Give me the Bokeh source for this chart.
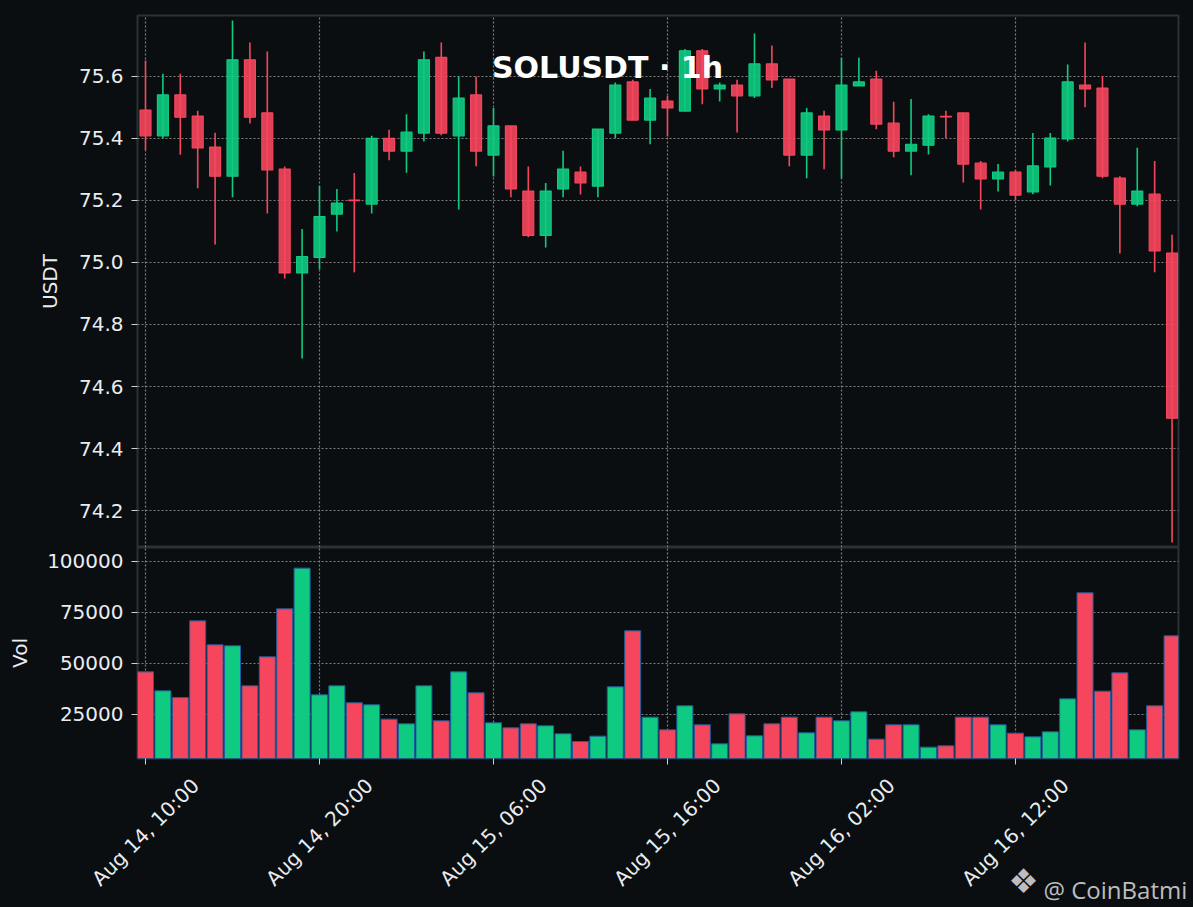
import math
from bokeh.plotting import figure
from bokeh.layouts import column
from bokeh.models import (Range1d, FixedTicker, Label, ColumnDataSource,
                          PrintfTickFormatter)
from bokeh.embed import file_html
from bokeh.resources import INLINE

# ---------------- data ----------------
opens = [75.491, 75.408, 75.540, 75.472, 75.372, 75.278, 75.653, 75.482, 75.301, 74.966,
         75.016, 75.156, 75.201, 75.188, 75.400, 75.359, 75.417, 75.661, 75.408, 75.540,
         75.346, 75.440, 75.230, 75.087, 75.237, 75.291, 75.246, 75.417, 75.582, 75.459,
         75.520, 75.488, 75.682, 75.559, 75.572, 75.537, 75.640, 75.591, 75.346, 75.472,
         75.427, 75.569, 75.591, 75.449, 75.359, 75.378, 75.471, 75.482, 75.320, 75.269,
         75.291, 75.227, 75.308, 75.398, 75.572, 75.562, 75.272, 75.188, 75.220, 75.030]
highs = [75.651, 75.608, 75.608, 75.489, 75.418, 75.780, 75.709, 75.680, 75.309, 75.108,
         75.247, 75.237, 75.288, 75.408, 75.428, 75.478, 75.680, 75.709, 75.599, 75.599,
         75.498, 75.440, 75.309, 75.256, 75.360, 75.309, 75.430, 75.580, 75.589, 75.559,
         75.537, 75.688, 75.688, 75.580, 75.589, 75.738, 75.699, 75.591, 75.498, 75.489,
         75.660, 75.660, 75.618, 75.518, 75.527, 75.478, 75.489, 75.482, 75.327, 75.317,
         75.298, 75.417, 75.417, 75.638, 75.709, 75.601, 75.278, 75.370, 75.327, 75.089]
lows = [75.362, 75.400, 75.347, 75.239, 75.058, 75.210, 75.448, 75.158, 74.948, 74.690,
        74.978, 75.100, 74.968, 75.158, 75.329, 75.289, 75.390, 75.410, 75.171, 75.310,
        75.277, 75.210, 75.081, 75.048, 75.210, 75.219, 75.210, 75.400, 75.459, 75.381,
        75.406, 75.488, 75.510, 75.519, 75.419, 75.530, 75.562, 75.310, 75.271, 75.300,
        75.271, 75.569, 75.429, 75.339, 75.281, 75.348, 75.400, 75.258, 75.171, 75.229,
        75.201, 75.220, 75.248, 75.390, 75.500, 75.271, 75.029, 75.181, 74.968, 74.097]
closes = [75.408, 75.540, 75.468, 75.369, 75.278, 75.653, 75.468, 75.298, 74.966, 75.019,
          75.148, 75.191, 75.199, 75.400, 75.359, 75.420, 75.653, 75.417, 75.530, 75.359,
          75.440, 75.237, 75.087, 75.230, 75.301, 75.256, 75.430, 75.572, 75.459, 75.530,
          75.498, 75.682, 75.559, 75.572, 75.537, 75.640, 75.588, 75.346, 75.482, 75.427,
          75.572, 75.582, 75.446, 75.359, 75.381, 75.472, 75.469, 75.317, 75.269, 75.291,
          75.217, 75.311, 75.401, 75.582, 75.559, 75.278, 75.188, 75.230, 75.037, 74.498]
volumes = [45900, 36600, 33300, 70900, 59150, 58660, 39050, 53270, 76800, 96730,
           34640, 39050, 30720, 29740, 22710, 20420, 39050, 21900, 45900, 35620,
           20920, 18460, 20420, 19440, 15520, 11760, 14380, 38560, 66010, 23690,
           17480, 29250, 19930, 10620, 25330, 14540, 20420, 23690, 16010, 23690,
           21900, 26310, 12910, 19930, 19930, 8990, 9640, 23690, 23690, 19930,
           15850, 14050, 16500, 32680, 84640, 36440, 45420, 17480, 29250, 63560]

tick_index = [0, 10, 20, 30, 40, 50]
tick_labels = ["Aug 14, 10:00", "Aug 14, 20:00", "Aug 15, 06:00",
               "Aug 15, 16:00", "Aug 16, 02:00", "Aug 16, 12:00"]
price_ticks = [74.2, 74.4, 74.6, 74.8, 75.0, 75.2, 75.4, 75.6]
volume_ticks = [25000, 50000, 75000, 100000]

# ---------------- styling ----------------
BG = "#0b0e11"
FRAME = "#2b3139"
UP = "#0ecb81"
DOWN = "#f6465d"
GRID = "#8a8a8a"
TXT = "#eaecef"
FONT = "DejaVu Sans"
FS = "20px"

W = 1193
LEFT, RIGHT = 137, 15
X0, X1 = -0.46, 59.37

n = len(opens)
xs = list(range(n))
colors = [UP if c >= o else DOWN for o, c in zip(opens, closes)]
src = ColumnDataSource(dict(
    x=xs, open=opens, high=highs, low=lows, close=closes, vol=volumes,
    top=[max(o, c) for o, c in zip(opens, closes)],
    bottom=[min(o, c) for o, c in zip(opens, closes)],
    color=colors,
))

x_range = Range1d(X0, X1)


def style(fig):
    fig.background_fill_color = BG
    fig.border_fill_color = BG
    fig.outline_line_color = FRAME
    fig.outline_line_width = 2
    fig.grid.grid_line_color = GRID
    fig.grid.grid_line_dash = "2 2"
    fig.grid.grid_line_width = 1.2
    fig.grid.grid_line_alpha = 0.9
    fig.xgrid.ticker = FixedTicker(ticks=tick_index)
    for ax in fig.yaxis:
        ax.axis_line_color = None
        ax.major_tick_line_color = "#d0d0d0"
        ax.major_tick_out = 6
        ax.major_tick_in = 0
        ax.minor_tick_line_color = None
        ax.major_label_text_color = TXT
        ax.major_label_text_font = FONT
        ax.major_label_text_font_size = FS
        ax.major_label_standoff = 8
        ax.axis_label_text_color = TXT
        ax.axis_label_text_font = FONT
        ax.axis_label_text_font_size = FS
        ax.axis_label_text_font_style = "normal"
        ax.axis_label_standoff = 14


# ---------------- price panel ----------------
p = figure(width=W, height=547, x_range=x_range,
           y_range=Range1d(74.081, 75.796), x_axis_location=None,
           output_backend="svg", toolbar_location=None,
           min_border_left=LEFT, min_border_right=RIGHT,
           min_border_top=15, min_border_bottom=0)
style(p)
p.yaxis.ticker = FixedTicker(ticks=price_ticks)
p.yaxis.formatter = PrintfTickFormatter(format="%.1f")
p.yaxis.axis_label = "USDT"

p.segment(x0="x", y0="low", x1="x", y1="high", source=src,
          line_color="color", line_width=1.6)
p.vbar(x="x", width=0.63, top="top", bottom="bottom", source=src,
       fill_color="color", fill_alpha=0.9, line_color="color", line_width=1.2)

p.add_layout(Label(x=470, y=480, x_units="screen", y_units="screen",
                   text="SOLUSDT · 1h", text_font=FONT, text_font_style="bold",
                   text_font_size="30px", text_color="white",
                   text_align="center", text_baseline="middle"))

# ---------------- volume panel ----------------
v = figure(width=W, height=223, x_range=x_range,
           y_range=Range1d(3430, 106860),
           output_backend="svg", toolbar_location=None,
           min_border_left=LEFT, min_border_right=RIGHT,
           min_border_top=0, min_border_bottom=12)
style(v)
v.yaxis.ticker = FixedTicker(ticks=volume_ticks)
v.yaxis.formatter = PrintfTickFormatter(format="%d")
v.yaxis.axis_label = "Vol"
v.yaxis.axis_label_standoff = 12

v.vbar(x="x", width=0.92, top="vol", bottom=0, source=src,
       fill_color="color", line_color="#1f5f9e", line_width=1)

xa = v.xaxis[0]
xa.ticker = FixedTicker(ticks=tick_index)
xa.major_label_overrides = {i: "" for i in tick_index}
xa.major_label_text_font_size = "0px"
xa.major_label_standoff = 0
xa.axis_line_color = None
xa.major_tick_line_color = "#d0d0d0"
xa.major_tick_out = 6
xa.major_tick_in = 0
xa.minor_tick_line_color = None

# ------- date-label strip: own root, full-width frame, same x scale -------
per_px = (X1 - X0) / (W - LEFT - RIGHT)
t = figure(width=W, height=137,
           x_range=Range1d(X0 - LEFT * per_px, X1 + RIGHT * per_px),
           y_range=Range1d(0, 137),
           x_axis_location=None, y_axis_location=None,
           output_backend="svg", toolbar_location=None,
           min_border=0, min_border_left=0, min_border_right=0,
           min_border_top=0, min_border_bottom=0)
t.background_fill_color = BG
t.border_fill_color = BG
t.outline_line_color = None
t.outline_line_alpha = 0
t.outline_line_width = 0
t.grid.visible = False
t.styles = {"border": "none", "outline": "none", "box-shadow": "none",
            "background-color": BG}

for i, lab in zip(tick_index, tick_labels):
    t.add_layout(Label(x=i, y=75.5, x_units="data", y_units="screen",
                       text=lab, angle=math.pi / 4, text_font=FONT,
                       text_font_size=FS, text_color=TXT,
                       text_align="center", text_baseline="middle"))

t.add_layout(Label(x=1023, y=27, x_units="screen", y_units="screen",
                   text="❖", text_font=FONT, text_font_size="34px",
                   text_color="#bdbdbd", text_align="center",
                   text_baseline="middle"))
t.add_layout(Label(x=1043, y=18, x_units="screen", y_units="screen",
                   text="@ CoinBatmi", text_font="Open Sans",
                   text_font_size="24px", text_color="#bdbdbd",
                   text_align="left", text_baseline="alphabetic"))

top_part = column(p, v, spacing=0)
top_part.styles = {"background-color": BG}

html = file_html([top_part, t], INLINE)
html = html.replace(
    "<body>",
    '<body style="background-color:#0b0e11;">'
    '<style>*{outline:none !important;}</style>', 1)
open("out.html", "w").write(html)
